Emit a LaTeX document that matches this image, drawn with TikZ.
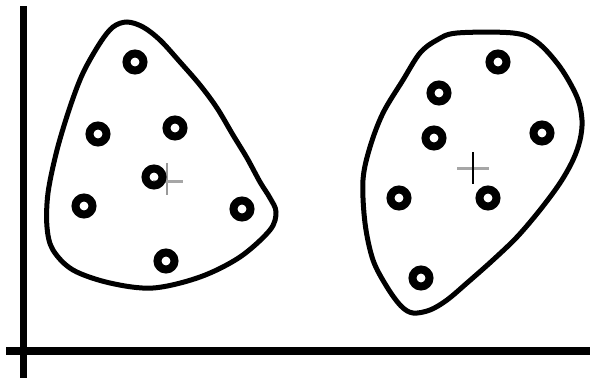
\documentclass[tikz,border=0pt]{standalone}
\begin{document}
\begin{tikzpicture}[x=1pt,y=-1pt,
  pt/.style={circle,draw=black,line width=8pt,minimum size=17pt,inner sep=0pt},
  blob/.style={draw=black,line width=5pt},
  axis/.style={draw=black,line width=7.5pt},
  crossv/.style={line width=2.7pt},
  crossh/.style={line width=3pt,draw=gray!70}]
\useasboundingbox (0,0) rectangle (590,378);
% axes
\coordinate (yt) at (23.5,6);
\coordinate (yb) at (23.5,378);
\coordinate (xl) at (6,351);
\coordinate (xr) at (590,351);
\draw[axis] (yt) -- (yb);
\draw[axis] (xl) -- (xr);
% left cluster outline
\draw[blob] plot[smooth cycle,tension=0.55] coordinates {
 (127,22) (143,27) (160,40) (180,62) (200,85) (217,108) (233,135) (247,158)
 (260,182) (270,198) (276,212) (270,230)
 (240,257) (200,277) (153,288) (110,283) (73,270) (53,250) (47,227) (48,193)
 (57,150) (70,107) (83,73) (100,43) (113,27)};
% right cluster outline
\draw[blob] plot[smooth cycle,tension=0.55] coordinates {
 (457,33) (513,33) (537,42) (560,67) (577,97) (582,120) (580,140) (573,160)
 (560,183) (540,210) (517,237) (493,260) (467,283) (447,300) (430,310) (413,313)
 (401,306) (387,287) (373,260) (365,223) (363,180) (370,147) (383,113) (403,80)
 (420,53) (437,40)};
% centroids
\coordinate (c1t) at (167,163);
\coordinate (c1b) at (167,195);
\coordinate (c1l) at (153,181);
\coordinate (c1r) at (183,181);
\draw[crossv,draw=gray!80] (c1t) -- (c1b);
\draw[crossh] (c1l) -- (c1r);
\coordinate (c2t) at (473,152);
\coordinate (c2b) at (473,184);
\coordinate (c2l) at (457,168);
\coordinate (c2r) at (489,168);
\draw[crossh] (c2l) -- (c2r);
\draw[crossv,draw=black] (c2t) -- (c2b);
% left points
\node[pt] (a1) at (135,62) {};
\node[pt] (a2) at (98,134) {};
\node[pt] (a3) at (175,128) {};
\node[pt] (a4) at (154,177) {};
\node[pt] (a5) at (84,206) {};
\node[pt] (a6) at (242,209) {};
\node[pt] (a7) at (166,261) {};
% right points
\node[pt] (b1) at (498,62) {};
\node[pt] (b2) at (439,93) {};
\node[pt] (b3) at (434,138) {};
\node[pt] (b4) at (542,133) {};
\node[pt] (b5) at (399,198) {};
\node[pt] (b6) at (488,198) {};
\node[pt] (b7) at (421,278) {};
\end{tikzpicture}
\end{document}
